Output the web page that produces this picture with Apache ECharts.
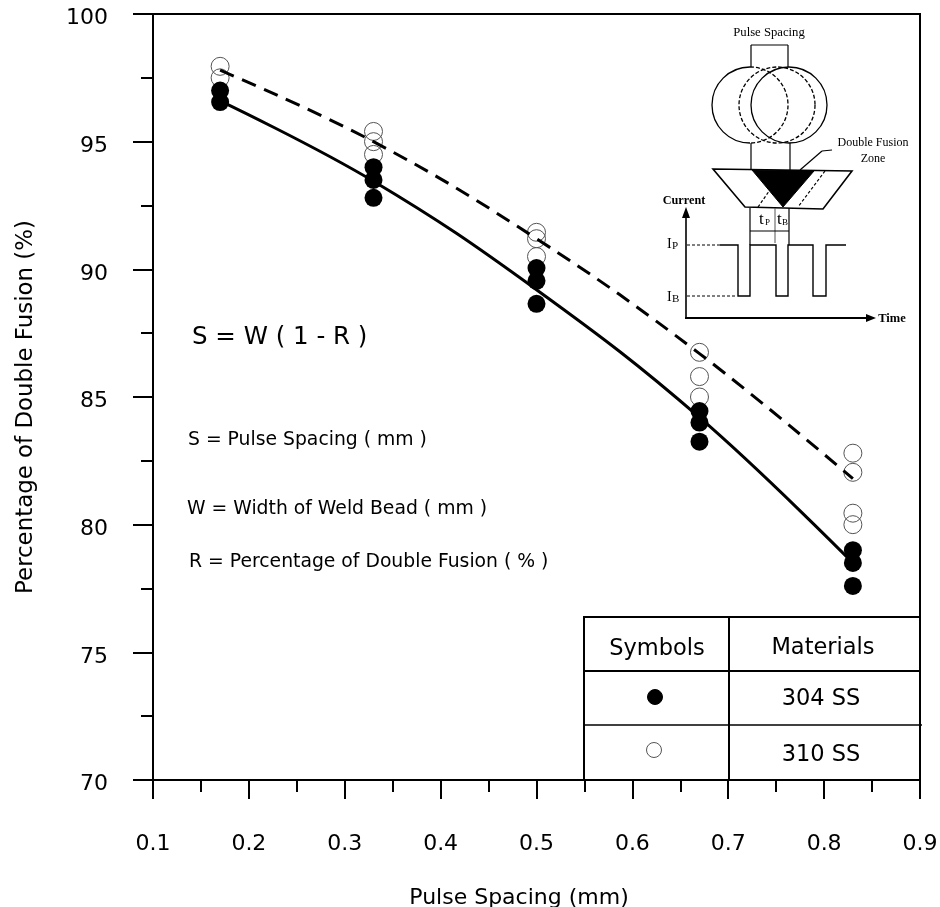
<!DOCTYPE html>
<html>
<head>
<meta charset="utf-8">
<style>html,body{margin:0;padding:0;background:#fff}#main{width:940px;height:907px}</style>
<script src="https://cdn.jsdelivr.net/npm/echarts@6/dist/echarts.min.js"></script>
</head>
<body>
<div id="main"></div>
<script>
var spacing = [0.17, 0.33, 0.5, 0.67, 0.83];
var fit304 = [96.6, 93.45, 89.2, 84.2, 78.5];
var fit310 = [97.8, 95.0, 91.2, 86.7, 81.8];
var points304 = [
    [0.17, 97.0], [0.17, 96.55],
    [0.33, 94.0], [0.33, 93.5], [0.33, 92.8],
    [0.5, 90.05], [0.5, 89.55], [0.5, 88.65],
    [0.67, 84.45], [0.67, 84.0], [0.67, 83.25],
    [0.83, 79.0], [0.83, 78.5], [0.83, 77.6]
];
var points310 = [
    [0.17, 97.95], [0.17, 97.5],
    [0.33, 95.4], [0.33, 95.0], [0.33, 94.5],
    [0.5, 91.45], [0.5, 91.2], [0.5, 90.5],
    [0.67, 86.75], [0.67, 85.8], [0.67, 85.0],
    [0.83, 82.8], [0.83, 82.05], [0.83, 80.45], [0.83, 80.0]
];
var tableHead = ['Symbols', 'Materials'];
var materials = ['304 SS', '310 SS'];

var SANS = '"DejaVu Sans"';
var SERIF = '"Liberation Serif"';

function pairs(xs, ys) {
    return xs.map(function(x, i) { return [x, ys[i]]; });
}
function ln(x1, y1, x2, y2, w, dash, color) {
    return {
        type: 'line',
        shape: { x1: x1, y1: y1, x2: x2, y2: y2 },
        style: { stroke: color || '#000', lineWidth: w || 1.2, lineDash: dash || null, fill: null }
    };
}
function poly(points, fill, stroke, w) {
    return {
        type: 'polygon',
        shape: { points: points },
        style: { fill: fill, stroke: stroke || null, lineWidth: w || 1 }
    };
}
function circ(cx, cy, r, fill, stroke, w, dash) {
    return {
        type: 'circle',
        shape: { cx: cx, cy: cy, r: r },
        style: { fill: fill, stroke: stroke, lineWidth: w || 1, lineDash: dash || null }
    };
}
function arc(cx, cy, r, a0, a1, w, dash) {
    return {
        type: 'arc',
        shape: { cx: cx, cy: cy, r: r, startAngle: a0, endAngle: a1 },
        style: { fill: null, stroke: '#000', lineWidth: w || 1, lineDash: dash || null }
    };
}
function txt(x, y, s, size, font, align, weight) {
    return {
        type: 'text',
        x: x,
        y: y,
        style: {
            text: s,
            fontSize: size,
            fontFamily: font || SANS,
            fontWeight: weight || 'normal',
            fill: '#000',
            align: align || 'left',
            verticalAlign: 'middle'
        }
    };
}

// 公式说明
var notes = [
    txt(192, 338, 'S = W ( 1 - R )', 24.5),
    txt(188, 440, 'S = Pulse Spacing ( mm )', 18.8),
    txt(187, 509, 'W = Width of Weld Bead ( mm )', 18.8),
    txt(189, 562, 'R = Percentage of Double Fusion ( % )', 18.8)
];

// 图例表格
var table = [
    { type: 'rect', shape: { x: 584, y: 617, width: 336, height: 163 }, style: { fill: '#fff', stroke: '#000', lineWidth: 2 } },
    ln(729, 617, 729, 780, 2),
    ln(584, 671, 920, 671, 2),
    ln(584, 725, 922, 725, 1.5),
    txt(657, 649, tableHead[0], 22.5, SANS, 'center'),
    txt(823, 648, tableHead[1], 22.5, SANS, 'center'),
    txt(821, 699, materials[0], 22.5, SANS, 'center'),
    txt(821, 755, materials[1], 22.5, SANS, 'center'),
    circ(655, 697, 7.5, '#000', '#000', 1),
    circ(654, 750, 7.5, 'none', '#555', 1)
];

// 右上角示意图
var inset = [
    txt(769, 33, 'Pulse Spacing', 12.7, SERIF, 'center'),
    ln(751, 45, 788, 45),
    ln(751, 45, 751, 67),
    ln(788, 45, 788, 67),
    arc(750, 105, 38, Math.PI / 2, Math.PI * 3 / 2, 1.3),
    arc(750, 105, 38, -Math.PI / 2, Math.PI / 2, 1.3, [4, 2]),
    circ(777, 105, 38, 'none', '#000', 1.3, [4, 2]),
    circ(789, 105, 38, 'none', '#000', 1.3),
    ln(751, 143, 751, 170),
    ln(790, 143, 790, 170),
    poly([[713, 169], [852, 171], [823, 209], [745, 207]], '#fff', '#000', 1.6),
    poly([[752, 170], [814, 171], [783, 207]], '#000', '#000', 1),
    ln(758, 207, 772, 187, 1.2, [3, 2]),
    ln(825, 171, 798, 207, 1.2, [3, 2]),
    ln(800, 170, 822, 151),
    ln(822, 151, 832, 150),
    txt(873, 143, 'Double Fusion', 12, SERIF, 'center'),
    txt(873, 159, 'Zone', 12, SERIF, 'center'),
    txt(684, 201, 'Current', 12.2, SERIF, 'center', 'bold'),
    ln(686, 318, 686, 214, 1.6),
    poly([[686, 207], [682, 218], [690, 218]], '#000'),
    ln(685, 318, 868, 318, 2),
    poly([[876, 318], [866, 314], [866, 322]], '#000'),
    txt(892, 319, 'Time', 12.5, SERIF, 'center', 'bold'),
    ln(750, 208, 750, 245),
    ln(775, 208, 775, 243, 1, null, '#555'),
    ln(789, 208, 789, 245),
    ln(750, 231, 789, 231),
    txt(759, 220, 't', 17, SERIF),
    txt(765, 223, 'P', 9, SERIF),
    txt(777, 220, 't', 17, SERIF),
    txt(782, 223, 'B', 9, SERIF),
    txt(667, 244, 'I', 14, SERIF),
    txt(672, 246, 'P', 11, SERIF),
    txt(667, 297, 'I', 14, SERIF),
    txt(672, 299, 'B', 11, SERIF),
    ln(687, 245, 720, 245, 1, [3, 2]),
    ln(687, 296, 737, 296, 1, [3, 2]),
    {
        type: 'polyline',
        shape: {
            points: [[720, 245], [738, 245], [738, 296], [750, 296], [750, 245], [776, 245], [776, 296],
                [788, 296], [788, 245], [813, 245], [813, 296], [826, 296], [826, 245], [846, 245]]
        },
        style: { fill: null, stroke: '#000', lineWidth: 1.4 }
    }
];

var myChart = echarts.init(document.getElementById('main'));
var option = {
    animation: false,
    backgroundColor: '#fff',
    grid: {
        left: 153,
        right: 20,
        top: 14,
        bottom: 127,
        outerBoundsMode: 'none',
        show: true,
        borderColor: '#000',
        borderWidth: 2
    },
    xAxis: {
        type: 'value',
        min: 0.1,
        max: 0.9,
        interval: 0.1,
        name: 'Pulse Spacing (mm)',
        nameLocation: 'middle',
        nameGap: 107,
        nameTextStyle: { fontFamily: SANS, fontSize: 22, color: '#000', padding: [0, 35, 0, 0] },
        splitLine: { show: false },
        axisLine: { onZero: false, lineStyle: { color: '#000', width: 2 } },
        axisTick: { length: 19, lineStyle: { color: '#000', width: 2 } },
        minorTick: { show: true, splitNumber: 2, length: 12, lineStyle: { color: '#000', width: 2 } },
        axisLabel: {
            fontFamily: SANS,
            fontSize: 22,
            color: '#000',
            margin: 53,
            showMinLabel: true,
            showMaxLabel: true,
            formatter: function(v) { return v.toFixed(1); }
        }
    },
    yAxis: {
        type: 'value',
        min: 70,
        max: 100,
        interval: 5,
        name: 'Percentage of Double Fusion (%)',
        nameLocation: 'middle',
        nameGap: 115,
        nameTextStyle: { fontFamily: SANS, fontSize: 22.9, color: '#000', padding: [0, 20, 0, 0] },
        splitLine: { show: false },
        axisLine: { onZero: false, lineStyle: { color: '#000', width: 2 } },
        axisTick: { length: 20, lineStyle: { color: '#000', width: 2 } },
        minorTick: { show: true, splitNumber: 2, length: 12, lineStyle: { color: '#000', width: 2 } },
        axisLabel: { fontFamily: SANS, fontSize: 22, color: '#000', margin: 45, verticalAlign: 'top', lineHeight: 9 }
    },
    series: [{
        name: '310 SS',
        type: 'scatter',
        z: 2,
        symbol: 'circle',
        symbolSize: 18,
        itemStyle: { color: 'rgba(255,255,255,0)', borderColor: '#555', borderWidth: 1, opacity: 1 },
        data: points310
    }, {
        name: '310 SS fit',
        type: 'line',
        z: 3,
        smooth: 0.4,
        showSymbol: false,
        lineStyle: { color: '#000', width: 3, type: [15, 9] },
        data: pairs(spacing, fit310)
    }, {
        name: '304 SS fit',
        type: 'line',
        z: 3,
        smooth: 0.4,
        showSymbol: false,
        lineStyle: { color: '#000', width: 3 },
        data: pairs(spacing, fit304)
    }, {
        name: '304 SS',
        type: 'scatter',
        z: 4,
        symbol: 'circle',
        symbolSize: 18,
        itemStyle: { color: '#000', opacity: 1 },
        data: points304
    }],
    graphic: { elements: notes.concat(table, inset) }
};
myChart.setOption(option, true);
</script>
</body>
</html>
